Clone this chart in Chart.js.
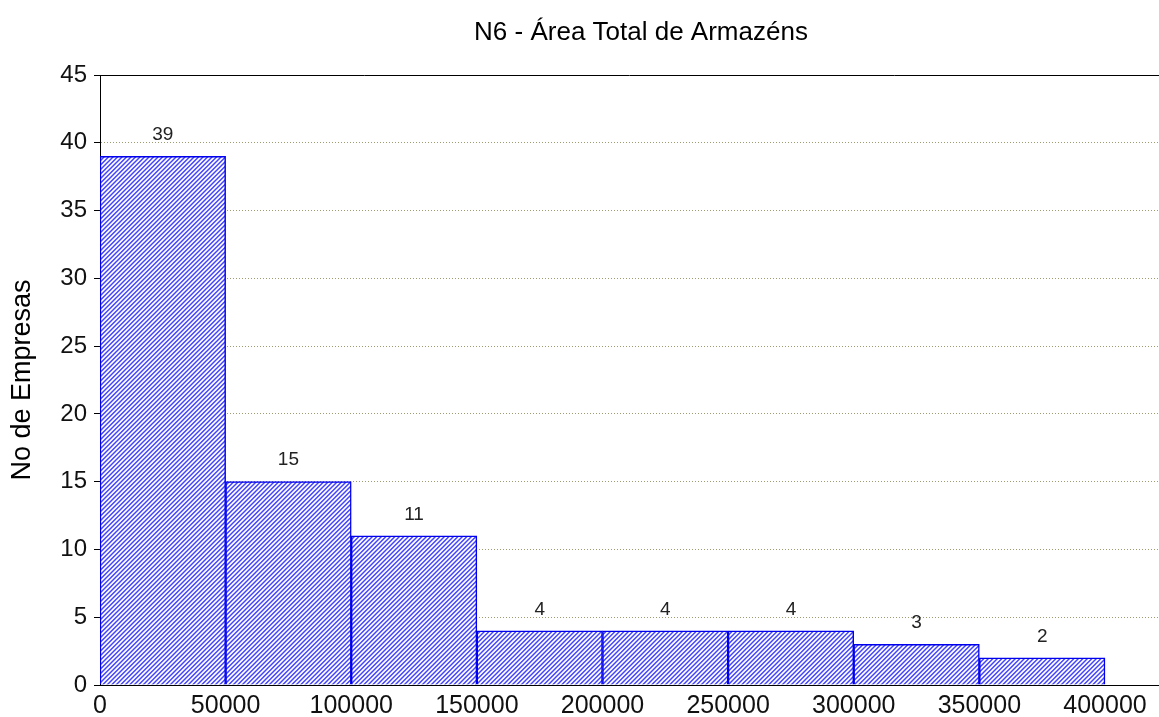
<!DOCTYPE html>
<html>
<head>
<meta charset="utf-8">
<script src="https://cdn.jsdelivr.net/npm/chart.js@4.4.1/dist/chart.umd.min.js"></script>
<style>
  html, body { margin: 0; padding: 0; background: #fff; }
</style>
</head>
<body>
<canvas id="chart" width="1159" height="717"></canvas>
<script>
// histogram bins (lower edge) and counts
const binStarts = [0, 50000, 100000, 150000, 200000, 250000, 300000, 350000];
const binWidth = 50000;
const counts = [39, 15, 11, 4, 4, 4, 3, 2];
const xTicks = [0, 50000, 100000, 150000, 200000, 250000, 300000, 350000, 400000];
const yTicks = [0, 5, 10, 15, 20, 25, 30, 35, 40, 45];

const chartTitle = 'N6 - Área Total de Armazéns';
const yTitle = 'No de Empresas';
const FONT = '"Liberation Sans", Arial, sans-serif';

const canvas = document.getElementById('chart');
const ctx = canvas.getContext('2d');

// diagonal blue hatch like the original (period ~4.5px)
function makeHatch() {
  const s = 9;
  const c = document.createElement('canvas');
  c.width = s; c.height = s;
  const g = c.getContext('2d');
  g.fillStyle = '#ffffff';
  g.fillRect(0, 0, s, s);
  g.strokeStyle = '#4444ff';
  g.lineWidth = 1.5;
  g.beginPath();
  for (let k = -2; k <= 4; k++) {
    const o = k * s / 2;
    g.moveTo(o - 1, s + 1);
    g.lineTo(o + s + 1, -1);
  }
  g.stroke();
  return ctx.createPattern(c, 'repeat');
}

const barLabels = {
  id: 'barLabels',
  afterDatasetsDraw(chart) {
    const c = chart.ctx;
    const meta = chart.getDatasetMeta(0);
    c.save();
    c.font = '19px ' + FONT;
    c.fillStyle = '#222';
    c.textAlign = 'center';
    c.textBaseline = 'middle';
    meta.data.forEach((bar, i) => {
      c.fillText(String(counts[i]), bar.x, bar.y - 21.5);
    });
    c.restore();
  }
};

const frame = {
  id: 'frame',
  afterDraw(chart) {
    const c = chart.ctx;
    const a = chart.chartArea;
    c.save();
    // top border line
    c.strokeStyle = '#000';
    c.lineWidth = 1;
    c.beginPath();
    c.moveTo(a.left, a.top + 0.5);
    c.lineTo(a.right, a.top + 0.5);
    c.stroke();
    // title
    c.font = '26px ' + FONT;
    c.fillStyle = '#000';
    c.textAlign = 'center';
    c.textBaseline = 'alphabetic';
    c.fillText(chartTitle, 641, 39.5);
    c.restore();
  }
};

new Chart(ctx, {
  type: 'bar',
  data: {
    datasets: [{
      data: binStarts.map((x, i) => ({ x: x + binWidth / 2, y: counts[i] })),
      backgroundColor: makeHatch(),
      borderColor: '#0000ee',
      borderWidth: 1.5,
      barPercentage: 1,
      categoryPercentage: 1
    }]
  },
  options: {
    responsive: false,
    animation: false,
    layout: { padding: { top: 75, right: 0, left: 0, bottom: 0 } },
    plugins: {
      legend: { display: false },
      tooltip: { enabled: false }
    },
    scales: {
      x: {
        type: 'linear',
        min: 0,
        max: 421500,
        offset: false,
        afterBuildTicks: scale => { scale.ticks = xTicks.map(v => ({ value: v })); },
        afterFit: scale => { scale.height = 32; },
        grid: { display: false, drawTicks: false },
        border: { color: '#000', width: 1 },
        ticks: {
          autoSkip: false,
          maxRotation: 0,
          padding: 6,
          color: '#111',
          font: { family: FONT, size: 25 },
          callback: v => String(v)
        }
      },
      y: {
        min: 0,
        max: 45,
        afterBuildTicks: scale => { scale.ticks = yTicks.map(v => ({ value: v })); },
        afterFit: scale => { scale.width = 100; },
        border: { color: '#000', width: 1, dash: [1, 2] },
        grid: {
          color: c => (c.tick && (c.tick.value === 0 || c.tick.value === 45)) ? 'rgba(0,0,0,0)' : '#9c9c70',
          tickBorderDash: [],
          tickColor: '#000',
          tickLength: 6,
          lineWidth: 1
        },
        ticks: {
          padding: 7,
          color: '#111',
          font: { family: FONT, size: 24 },
          callback: v => String(v)
        },
        title: {
          display: true,
          text: yTitle,
          color: '#000',
          font: { family: FONT, size: 27 },
          padding: { top: 6, bottom: 0 }
        }
      }
    }
  },
  plugins: [barLabels, frame]
});
</script>
</body>
</html>
